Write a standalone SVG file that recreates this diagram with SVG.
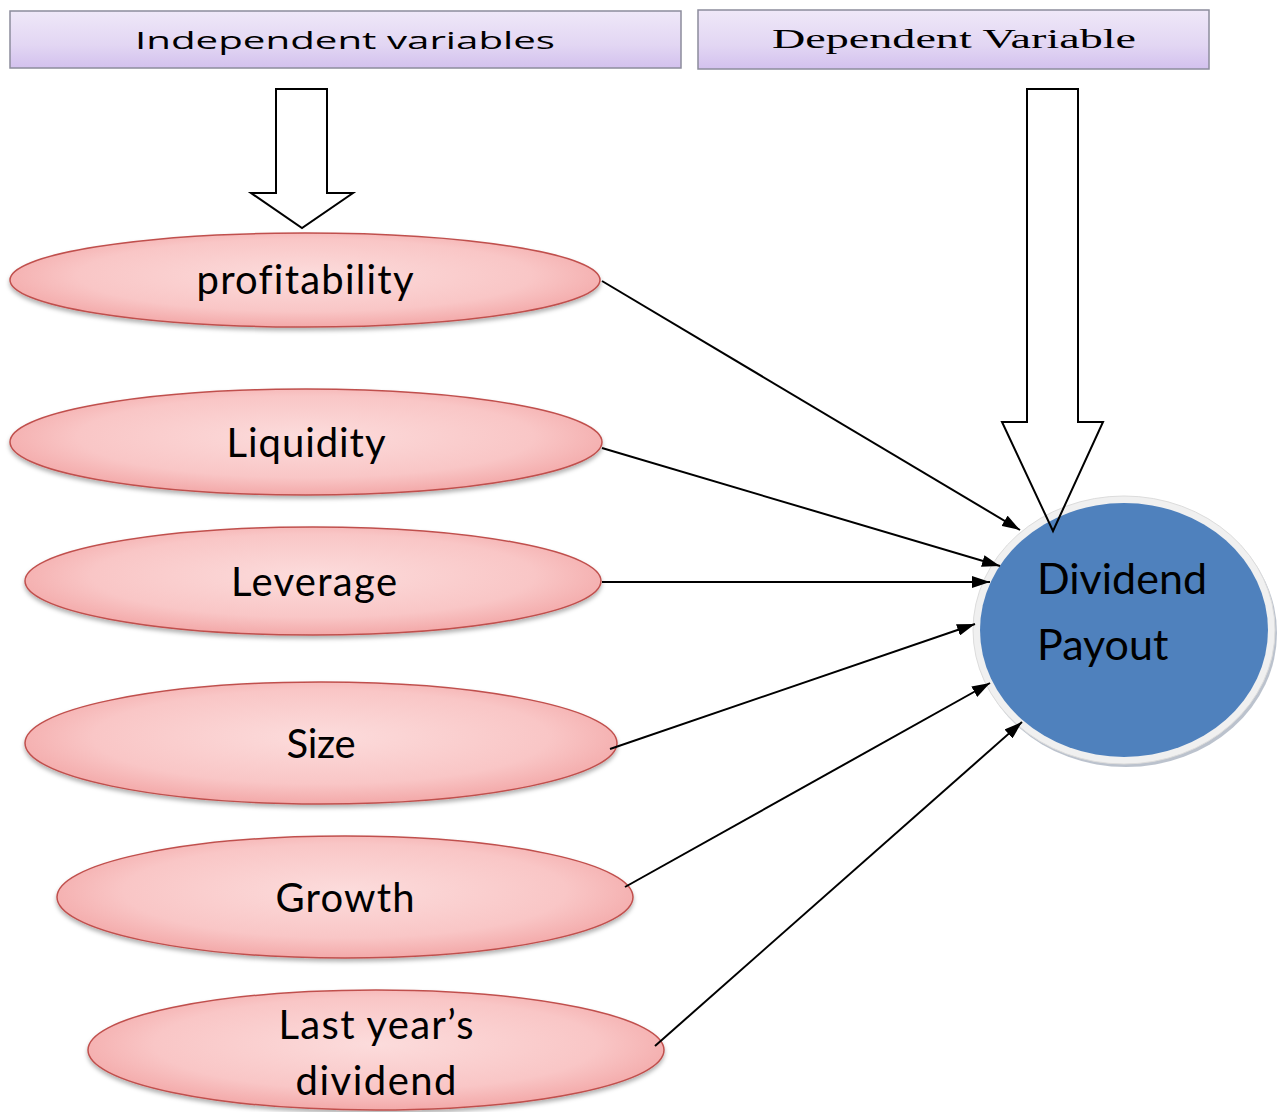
<svg xmlns="http://www.w3.org/2000/svg" width="1283" height="1112" viewBox="0 0 1283 1112">
<style>
.hdr{stroke:#8c8c9c;stroke-width:1.5;fill:url(#lav)}
.ell{fill:url(#pink);stroke:#c0504d;stroke-width:1.5;filter:url(#sh)}
.lbl{font-family:Lato,"Liberation Sans",sans-serif;font-size:40px;fill:#000;text-anchor:middle;font-variant-ligatures:none}
.hol{fill:#fff;stroke:#000;stroke-width:2}
.con line{stroke:#000;stroke-width:2;marker-end:url(#ah)}
</style>
<defs>
<linearGradient id="lav" x1="0" y1="0" x2="0" y2="1">
<stop offset="0" stop-color="#efe8f8"/><stop offset="0.6" stop-color="#e2d6f3"/><stop offset="1" stop-color="#d3c1ee"/>
</linearGradient>
<radialGradient id="pink" cx="0.5" cy="0.45" r="0.55">
<stop offset="0" stop-color="#fcdcdc"/><stop offset="0.7" stop-color="#f9c6c6"/><stop offset="1" stop-color="#f3a9a9"/>
</radialGradient>
<filter id="sh" x="-10%" y="-20%" width="120%" height="150%">
<feDropShadow dx="0" dy="3" stdDeviation="2" flood-color="#000" flood-opacity="0.3"/>
</filter>
<marker id="ah" viewBox="0 0 18 12" refX="18" refY="6" markerWidth="18" markerHeight="12" markerUnits="userSpaceOnUse" orient="auto">
<path d="M0,0 L18,6 L0,12 z" fill="#000"/>
</marker>
</defs>
<rect width="1283" height="1112" fill="#fff"/>
<g id="hdr-independent">
<rect class="hdr" x="10" y="11" width="671" height="57"/>
<text x="135" y="49" font-family="'Open Sans','Noto Sans',sans-serif" font-size="24" textLength="420" lengthAdjust="spacingAndGlyphs">Independent variables</text>
</g>
<g id="hdr-dependent">
<rect class="hdr" x="698" y="10" width="511" height="59"/>
<text x="772" y="48" font-family="'Liberation Serif',serif" font-size="27" textLength="364" lengthAdjust="spacingAndGlyphs">Dependent Variable</text>
</g>
<g id="arrow-left">
<path class="hol" d="M276,89 H327 V193 H353 L302,228 L251,193 H276 Z"/>
</g>
<g id="n-profitability">
<ellipse class="ell" cx="305" cy="280" rx="295" ry="47"/>
<text class="lbl" x="305" y="294" textLength="217">profitability</text>
</g>
<g id="n-liquidity">
<ellipse class="ell" cx="306" cy="442" rx="296" ry="53"/>
<text class="lbl" x="306" y="457" textLength="159">Liquidity</text>
</g>
<g id="n-leverage">
<ellipse class="ell" cx="313" cy="581" rx="288" ry="54"/>
<text class="lbl" x="314" y="596" textLength="166">Leverage</text>
</g>
<g id="n-size">
<ellipse class="ell" cx="321" cy="743" rx="296" ry="61"/>
<text class="lbl" x="321" y="758" textLength="69">Size</text>
</g>
<g id="n-growth">
<ellipse class="ell" cx="345" cy="897" rx="288" ry="61"/>
<text class="lbl" x="345" y="912" textLength="139">Growth</text>
</g>
<g id="n-lastyear">
<ellipse class="ell" cx="376" cy="1050" rx="288" ry="60"/>
<text class="lbl" x="376" y="1039" textLength="195">Last year’s</text>
<text class="lbl" x="376" y="1095" textLength="161">dividend</text>
</g>
<g id="n-dividend">
<ellipse cx="1126" cy="633" rx="151" ry="134" fill="#8d99ab" opacity="0.6"/>
<ellipse cx="1124" cy="630" rx="151" ry="134" fill="#f0f0f0" stroke="#dcdcdc" stroke-width="1"/>
<ellipse cx="1124" cy="630" rx="144" ry="127" fill="#4f81bd"/>
<text x="1037" y="594" font-family="Lato,'Liberation Sans',sans-serif" font-size="43">Dividend</text>
<text x="1037" y="660" font-family="Lato,'Liberation Sans',sans-serif" font-size="43">Payout</text>
</g>
<g id="arrow-right">
<path d="M1027,89 H1078 V422 H1103 L1068.6,497 H1037.4 L1002,422 H1027 Z" fill="#fff" stroke="none"/>
<path d="M1027,89 H1078 V422 H1103 L1053,531 L1002,422 H1027 Z" fill="none" stroke="#000" stroke-width="2"/>
</g>
<g id="connectors" class="con">
<line x1="602" y1="281" x2="1020" y2="530"/>
<line x1="602" y1="448" x2="1000" y2="566"/>
<line x1="602" y1="582" x2="990" y2="582"/>
<line x1="610" y1="749" x2="975" y2="624"/>
<line x1="625" y1="887" x2="990" y2="683"/>
<line x1="655" y1="1046" x2="1022" y2="722"/>
</g>
</svg>
